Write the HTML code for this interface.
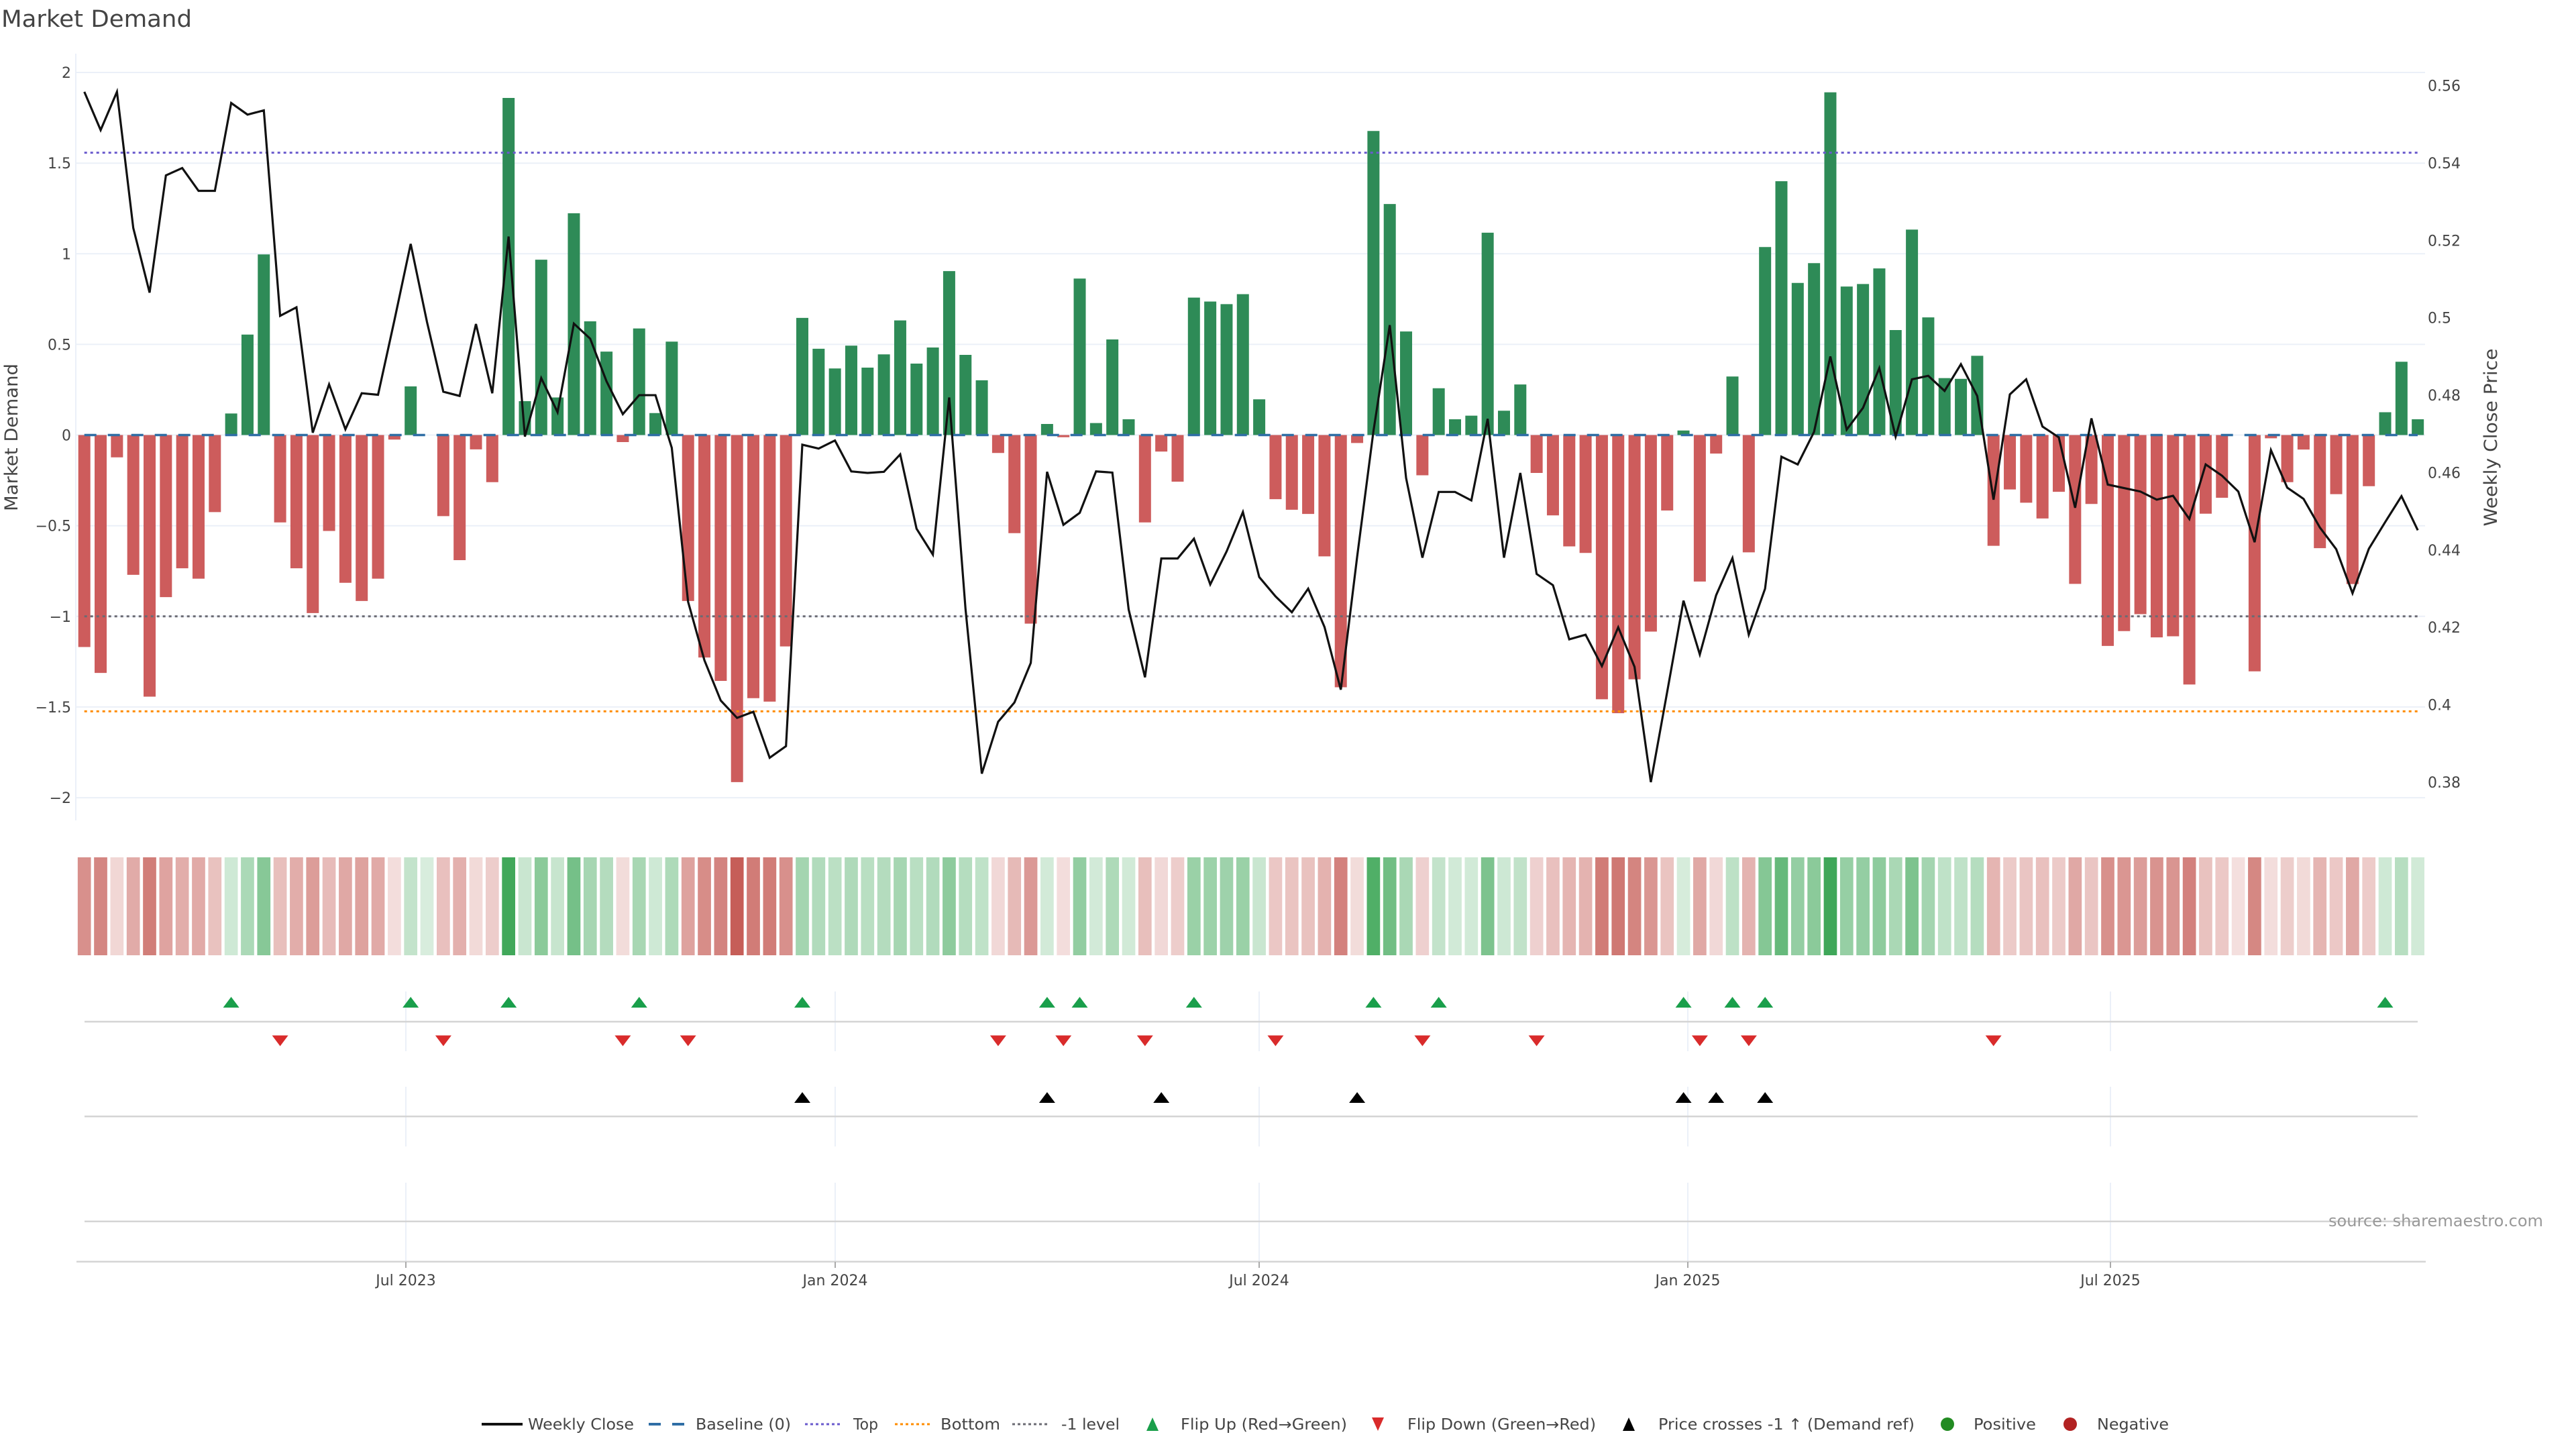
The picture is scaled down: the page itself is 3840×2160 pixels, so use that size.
<!DOCTYPE html>
<html><head><meta charset="utf-8">
<style>
html,body{margin:0;padding:0;background:#fff;width:3840px;height:2160px;overflow:hidden}
svg{display:block}
text{font-family:"DejaVu Sans","Liberation Sans",sans-serif;fill:#444}
.hp{fill:rgb(61,166,87)}
.hn{fill:rgb(198,94,88)}
</style></head>
<body>
<svg width="3840" height="2160" viewBox="0 0 3840 2160" xmlns="http://www.w3.org/2000/svg">
<rect width="3840" height="2160" fill="#fff"/>

<!-- Title -->
<text x="2" y="40" font-size="35" textLength="284" lengthAdjust="spacingAndGlyphs">Market Demand</text>

<!-- Main gridlines -->
<g stroke="#ebf0f8" stroke-width="2">
<line x1="113" y1="108" x2="3615" y2="108"/>
<line x1="113" y1="243.2" x2="3615" y2="243.2"/>
<line x1="113" y1="378.3" x2="3615" y2="378.3"/>
<line x1="113" y1="513.4" x2="3615" y2="513.4"/>
<line x1="113" y1="648.5" x2="3615" y2="648.5"/>
<line x1="113" y1="783.7" x2="3615" y2="783.7"/>
<line x1="113" y1="918.8" x2="3615" y2="918.8"/>
<line x1="113" y1="1053.9" x2="3615" y2="1053.9"/>
<line x1="113" y1="1189.1" x2="3615" y2="1189.1"/>
<line x1="113" y1="80" x2="113" y2="1223"/>
</g>

<!-- Left ticks -->
<g font-size="22" text-anchor="end">
<text x="106" y="116">2</text>
<text x="106" y="251.2">1.5</text>
<text x="106" y="386.3">1</text>
<text x="106" y="521.4">0.5</text>
<text x="106" y="656.5">0</text>
<text x="106" y="791.7">−0.5</text>
<text x="106" y="926.8">−1</text>
<text x="106" y="1061.9">−1.5</text>
<text x="106" y="1197.1">−2</text>
</g>
<!-- Right ticks -->
<g font-size="22">
<text x="3619" y="135.6">0.56</text>
<text x="3619" y="251">0.54</text>
<text x="3619" y="366.3">0.52</text>
<text x="3619" y="481.7">0.5</text>
<text x="3619" y="597">0.48</text>
<text x="3619" y="712.4">0.46</text>
<text x="3619" y="827.8">0.44</text>
<text x="3619" y="943.2">0.42</text>
<text x="3619" y="1058.5">0.4</text>
<text x="3619" y="1173.9">0.38</text>
</g>
<!-- Axis titles -->
<text transform="translate(26,652) rotate(-90)" font-size="27" text-anchor="middle" textLength="220" lengthAdjust="spacingAndGlyphs">Market Demand</text>
<text transform="translate(3722,652) rotate(-90)" font-size="27" text-anchor="middle" textLength="265" lengthAdjust="spacingAndGlyphs">Weekly Close Price</text>

<!-- Bars -->
<g transform="translate(116.7 648.5) scale(24.325 -270.3)">
<path fill="#2e8b57" d="M9 0h.74v.119h-.74zM10 0h.74v.554h-.74zM11 0h.74v.996h-.74zM20 0h.74v.268h-.74zM26 0h.74v1.859h-.74zM27 0h.74v.187h-.74zM28 0h.74v.967h-.74zM29 0h.74v.207h-.74zM30 0h.74v1.223h-.74zM31 0h.74v.627h-.74zM32 0h.74v.46h-.74zM34 0h.74v.588h-.74zM35 0h.74v.121h-.74zM36 0h.74v.515h-.74zM44 0h.74v.646h-.74zM45 0h.74v.476h-.74zM46 0h.74v.367h-.74zM47 0h.74v.493h-.74zM48 0h.74v.372h-.74zM49 0h.74v.445h-.74zM50 0h.74v.632h-.74zM51 0h.74v.394h-.74zM52 0h.74v.483h-.74zM53 0h.74v.904h-.74zM54 0h.74v.442h-.74zM55 0h.74v.302h-.74zM59 0h.74v.061h-.74zM61 0h.74v.863h-.74zM62 0h.74v.066h-.74zM63 0h.74v.527h-.74zM64 0h.74v.087h-.74zM68 0h.74v.758h-.74zM69 0h.74v.736h-.74zM70 0h.74v.722h-.74zM71 0h.74v.777h-.74zM72 0h.74v.197h-.74zM79 0h.74v1.677h-.74zM80 0h.74v1.274h-.74zM81 0h.74v.571h-.74zM83 0h.74v.258h-.74zM84 0h.74v.087h-.74zM85 0h.74v.107h-.74zM86 0h.74v1.116h-.74zM87 0h.74v.134h-.74zM88 0h.74v.279h-.74zM98 0h.74v.025h-.74zM101 0h.74v.323h-.74zM103 0h.74v1.037h-.74zM104 0h.74v1.4h-.74zM105 0h.74v.839h-.74zM106 0h.74v.948h-.74zM107 0h.74v1.89h-.74zM108 0h.74v.819h-.74zM109 0h.74v.833h-.74zM110 0h.74v.919h-.74zM111 0h.74v.579h-.74zM112 0h.74v1.133h-.74zM113 0h.74v.649h-.74zM114 0h.74v.314h-.74zM115 0h.74v.31h-.74zM116 0h.74v.437h-.74zM141 0h.74v.126h-.74zM142 0h.74v.404h-.74zM143 0h.74v.087h-.74z"/>
<path fill="#cd5c5c" d="M0 0h.74v-1.169h-.74zM1 0h.74v-1.312h-.74zM2 0h.74v-.123h-.74zM3 0h.74v-.771h-.74zM4 0h.74v-1.443h-.74zM5 0h.74v-.894h-.74zM6 0h.74v-.735h-.74zM7 0h.74v-.792h-.74zM8 0h.74v-.425h-.74zM12 0h.74v-.482h-.74zM13 0h.74v-.735h-.74zM14 0h.74v-.982h-.74zM15 0h.74v-.529h-.74zM16 0h.74v-.815h-.74zM17 0h.74v-.915h-.74zM18 0h.74v-.792h-.74zM19 0h.74v-.025h-.74zM22 0h.74v-.447h-.74zM23 0h.74v-.69h-.74zM24 0h.74v-.079h-.74zM25 0h.74v-.26h-.74zM33 0h.74v-.039h-.74zM37 0h.74v-.915h-.74zM38 0h.74v-1.227h-.74zM39 0h.74v-1.356h-.74zM40 0h.74v-1.914h-.74zM41 0h.74v-1.451h-.74zM42 0h.74v-1.47h-.74zM43 0h.74v-1.166h-.74zM56 0h.74v-.099h-.74zM57 0h.74v-.541h-.74zM58 0h.74v-1.04h-.74zM60 0h.74v-.012h-.74zM65 0h.74v-.482h-.74zM66 0h.74v-.091h-.74zM67 0h.74v-.257h-.74zM73 0h.74v-.354h-.74zM74 0h.74v-.412h-.74zM75 0h.74v-.435h-.74zM76 0h.74v-.669h-.74zM77 0h.74v-1.391h-.74zM78 0h.74v-.044h-.74zM82 0h.74v-.222h-.74zM89 0h.74v-.209h-.74zM90 0h.74v-.443h-.74zM91 0h.74v-.614h-.74zM92 0h.74v-.65h-.74zM93 0h.74v-1.457h-.74zM94 0h.74v-1.534h-.74zM95 0h.74v-1.347h-.74zM96 0h.74v-1.084h-.74zM97 0h.74v-.416h-.74zM99 0h.74v-.808h-.74zM100 0h.74v-.102h-.74zM102 0h.74v-.647h-.74zM117 0h.74v-.611h-.74zM118 0h.74v-.3h-.74zM119 0h.74v-.373h-.74zM120 0h.74v-.46h-.74zM121 0h.74v-.313h-.74zM122 0h.74v-.821h-.74zM123 0h.74v-.38h-.74zM124 0h.74v-1.163h-.74zM125 0h.74v-1.081h-.74zM126 0h.74v-.988h-.74zM127 0h.74v-1.116h-.74zM128 0h.74v-1.11h-.74zM129 0h.74v-1.376h-.74zM130 0h.74v-.434h-.74zM131 0h.74v-.346h-.74zM133 0h.74v-1.303h-.74zM134 0h.74v-.018h-.74zM135 0h.74v-.26h-.74zM136 0h.74v-.08h-.74zM137 0h.74v-.624h-.74zM138 0h.74v-.326h-.74zM139 0h.74v-.822h-.74zM140 0h.74v-.282h-.74z"/>
</g>

<!-- Reference lines -->
<line x1="125.7" y1="648.5" x2="3604" y2="648.5" stroke="#2f6ea5" stroke-width="3.5" stroke-dasharray="18 17"/>
<line x1="125.7" y1="227.6" x2="3604" y2="227.6" stroke="#6a5acd" stroke-width="3" stroke-dasharray="4 5"/>
<line x1="125.7" y1="918.8" x2="3604" y2="918.8" stroke="#6b6b73" stroke-width="3" stroke-dasharray="4 5"/>
<line x1="125.7" y1="1060.4" x2="3604" y2="1060.4" stroke="#ff8c00" stroke-width="3" stroke-dasharray="4 5"/>

<!-- Price line -->
<polyline transform="translate(125.7 3357.96) scale(24.325 -5768.5)" vector-effect="non-scaling-stroke" fill="none" stroke="#111" stroke-width="3.2" stroke-linejoin="miter" points="0,.5584 1,.5485 2,.5584 3,.5232 4,.5065 5,.5368 6,.5387 7,.5328 8,.5328 9,.5555 10,.5525 11,.5536 12,.5005 13,.5027 14,.4703 15,.4828 16,.4712 17,.4805 18,.4801 19,.4993 20,.5191 21,.4989 22,.4809 23,.4798 24,.4984 25,.4805 26,.521 27,.4693 28,.4844 29,.4756 30,.4985 31,.4946 32,.4836 33,.4751 34,.48 35,.48 36,.4664 37,.4266 38,.4115 39,.4011 40,.3966 41,.3982 42,.3863 43,.3893 44,.4672 45,.4662 46,.4683 47,.4603 48,.4599 49,.4602 50,.4647 51,.4455 52,.4388 53,.4794 54,.4248 55,.3822 56,.3956 57,.4006 58,.4108 59,.4602 60,.4465 61,.4496 62,.4603 63,.46 64,.4246 65,.4071 66,.4378 67,.4378 68,.4429 69,.4311 70,.4396 71,.4498 72,.433 73,.428 74,.4239 75,.43 76,.4201 77,.4039 78,.4382 79,.4707 80,.4981 81,.4586 82,.438 83,.455 84,.455 85,.4528 86,.4739 87,.438 88,.4599 89,.4338 90,.4309 91,.4169 92,.4181 93,.41 94,.42 95,.4098 96,.38 97,.4033 98,.4269 99,.413 100,.4283 101,.4379 102,.4181 103,.43 104,.4641 105,.4621 106,.4705 107,.49 108,.4711 109,.4767 110,.487 111,.4693 112,.4841 113,.485 114,.4811 115,.488 116,.4798 117,.453 118,.4802 119,.4841 120,.4719 121,.4691 122,.4509 123,.474 124,.4569 125,.456 126,.4551 127,.453 128,.454 129,.448 130,.4621 131,.4592 132,.4551 133,.442 134,.4658 135,.4561 136,.4532 137,.4458 138,.4402 139,.4288 140,.4403 141,.4472 142,.4539 143,.4451"/>

<!-- Heatmap strip -->
<g transform="translate(115.85 1278) scale(24.325 1)">
<rect x="0" width=".81" height="146" class="hn" fill-opacity=".69"/>
<rect x="1" width=".81" height="146" class="hn" fill-opacity=".75"/>
<rect x="2" width=".81" height="146" class="hn" fill-opacity=".25"/>
<rect x="3" width=".81" height="146" class="hn" fill-opacity=".52"/>
<rect x="4" width=".81" height="146" class="hn" fill-opacity=".80"/>
<rect x="5" width=".81" height="146" class="hn" fill-opacity=".57"/>
<rect x="6" width=".81" height="146" class="hn" fill-opacity=".51"/>
<rect x="7" width=".81" height="146" class="hn" fill-opacity=".53"/>
<rect x="8" width=".81" height="146" class="hn" fill-opacity=".38"/>
<rect x="9" width=".81" height="146" class="hp" fill-opacity=".25"/>
<rect x="10" width=".81" height="146" class="hp" fill-opacity=".43"/>
<rect x="11" width=".81" height="146" class="hp" fill-opacity=".62"/>
<rect x="12" width=".81" height="146" class="hn" fill-opacity=".40"/>
<rect x="13" width=".81" height="146" class="hn" fill-opacity=".51"/>
<rect x="14" width=".81" height="146" class="hn" fill-opacity=".61"/>
<rect x="15" width=".81" height="146" class="hn" fill-opacity=".42"/>
<rect x="16" width=".81" height="146" class="hn" fill-opacity=".54"/>
<rect x="17" width=".81" height="146" class="hn" fill-opacity=".58"/>
<rect x="18" width=".81" height="146" class="hn" fill-opacity=".53"/>
<rect x="19" width=".81" height="146" class="hn" fill-opacity=".21"/>
<rect x="20" width=".81" height="146" class="hp" fill-opacity=".31"/>
<rect x="21" width=".81" height="146" class="hp" fill-opacity=".20"/>
<rect x="22" width=".81" height="146" class="hn" fill-opacity=".39"/>
<rect x="23" width=".81" height="146" class="hn" fill-opacity=".49"/>
<rect x="24" width=".81" height="146" class="hn" fill-opacity=".23"/>
<rect x="25" width=".81" height="146" class="hn" fill-opacity=".31"/>
<rect x="26" width=".81" height="146" class="hp" fill-opacity=".98"/>
<rect x="27" width=".81" height="146" class="hp" fill-opacity=".28"/>
<rect x="28" width=".81" height="146" class="hp" fill-opacity=".60"/>
<rect x="29" width=".81" height="146" class="hp" fill-opacity=".29"/>
<rect x="30" width=".81" height="146" class="hp" fill-opacity=".71"/>
<rect x="31" width=".81" height="146" class="hp" fill-opacity=".46"/>
<rect x="32" width=".81" height="146" class="hp" fill-opacity=".39"/>
<rect x="33" width=".81" height="146" class="hn" fill-opacity=".22"/>
<rect x="34" width=".81" height="146" class="hp" fill-opacity=".45"/>
<rect x="35" width=".81" height="146" class="hp" fill-opacity=".25"/>
<rect x="36" width=".81" height="146" class="hp" fill-opacity=".42"/>
<rect x="37" width=".81" height="146" class="hn" fill-opacity=".58"/>
<rect x="38" width=".81" height="146" class="hn" fill-opacity=".71"/>
<rect x="39" width=".81" height="146" class="hn" fill-opacity=".77"/>
<rect x="40" width=".81" height="146" class="hn" fill-opacity="1"/>
<rect x="41" width=".81" height="146" class="hn" fill-opacity=".81"/>
<rect x="42" width=".81" height="146" class="hn" fill-opacity=".81"/>
<rect x="43" width=".81" height="146" class="hn" fill-opacity=".69"/>
<rect x="44" width=".81" height="146" class="hp" fill-opacity=".47"/>
<rect x="45" width=".81" height="146" class="hp" fill-opacity=".40"/>
<rect x="46" width=".81" height="146" class="hp" fill-opacity=".35"/>
<rect x="47" width=".81" height="146" class="hp" fill-opacity=".41"/>
<rect x="48" width=".81" height="146" class="hp" fill-opacity=".36"/>
<rect x="49" width=".81" height="146" class="hp" fill-opacity=".39"/>
<rect x="50" width=".81" height="146" class="hp" fill-opacity=".46"/>
<rect x="51" width=".81" height="146" class="hp" fill-opacity=".36"/>
<rect x="52" width=".81" height="146" class="hp" fill-opacity=".40"/>
<rect x="53" width=".81" height="146" class="hp" fill-opacity=".58"/>
<rect x="54" width=".81" height="146" class="hp" fill-opacity=".38"/>
<rect x="55" width=".81" height="146" class="hp" fill-opacity=".33"/>
<rect x="56" width=".81" height="146" class="hn" fill-opacity=".24"/>
<rect x="57" width=".81" height="146" class="hn" fill-opacity=".43"/>
<rect x="58" width=".81" height="146" class="hn" fill-opacity=".63"/>
<rect x="59" width=".81" height="146" class="hp" fill-opacity=".23"/>
<rect x="60" width=".81" height="146" class="hn" fill-opacity=".21"/>
<rect x="61" width=".81" height="146" class="hp" fill-opacity=".56"/>
<rect x="62" width=".81" height="146" class="hp" fill-opacity=".23"/>
<rect x="63" width=".81" height="146" class="hp" fill-opacity=".42"/>
<rect x="64" width=".81" height="146" class="hp" fill-opacity=".24"/>
<rect x="65" width=".81" height="146" class="hn" fill-opacity=".40"/>
<rect x="66" width=".81" height="146" class="hn" fill-opacity=".24"/>
<rect x="67" width=".81" height="146" class="hn" fill-opacity=".31"/>
<rect x="68" width=".81" height="146" class="hp" fill-opacity=".52"/>
<rect x="69" width=".81" height="146" class="hp" fill-opacity=".51"/>
<rect x="70" width=".81" height="146" class="hp" fill-opacity=".50"/>
<rect x="71" width=".81" height="146" class="hp" fill-opacity=".52"/>
<rect x="72" width=".81" height="146" class="hp" fill-opacity=".28"/>
<rect x="73" width=".81" height="146" class="hn" fill-opacity=".35"/>
<rect x="74" width=".81" height="146" class="hn" fill-opacity=".37"/>
<rect x="75" width=".81" height="146" class="hn" fill-opacity=".38"/>
<rect x="76" width=".81" height="146" class="hn" fill-opacity=".48"/>
<rect x="77" width=".81" height="146" class="hn" fill-opacity=".78"/>
<rect x="78" width=".81" height="146" class="hn" fill-opacity=".22"/>
<rect x="79" width=".81" height="146" class="hp" fill-opacity=".90"/>
<rect x="80" width=".81" height="146" class="hp" fill-opacity=".73"/>
<rect x="81" width=".81" height="146" class="hp" fill-opacity=".44"/>
<rect x="82" width=".81" height="146" class="hn" fill-opacity=".29"/>
<rect x="83" width=".81" height="146" class="hp" fill-opacity=".31"/>
<rect x="84" width=".81" height="146" class="hp" fill-opacity=".24"/>
<rect x="85" width=".81" height="146" class="hp" fill-opacity=".24"/>
<rect x="86" width=".81" height="146" class="hp" fill-opacity=".67"/>
<rect x="87" width=".81" height="146" class="hp" fill-opacity=".26"/>
<rect x="88" width=".81" height="146" class="hp" fill-opacity=".32"/>
<rect x="89" width=".81" height="146" class="hn" fill-opacity=".29"/>
<rect x="90" width=".81" height="146" class="hn" fill-opacity=".39"/>
<rect x="91" width=".81" height="146" class="hn" fill-opacity=".46"/>
<rect x="92" width=".81" height="146" class="hn" fill-opacity=".47"/>
<rect x="93" width=".81" height="146" class="hn" fill-opacity=".81"/>
<rect x="94" width=".81" height="146" class="hn" fill-opacity=".84"/>
<rect x="95" width=".81" height="146" class="hn" fill-opacity=".76"/>
<rect x="96" width=".81" height="146" class="hn" fill-opacity=".65"/>
<rect x="97" width=".81" height="146" class="hn" fill-opacity=".37"/>
<rect x="98" width=".81" height="146" class="hp" fill-opacity=".21"/>
<rect x="99" width=".81" height="146" class="hn" fill-opacity=".54"/>
<rect x="100" width=".81" height="146" class="hn" fill-opacity=".24"/>
<rect x="101" width=".81" height="146" class="hp" fill-opacity=".34"/>
<rect x="102" width=".81" height="146" class="hn" fill-opacity=".47"/>
<rect x="103" width=".81" height="146" class="hp" fill-opacity=".63"/>
<rect x="104" width=".81" height="146" class="hp" fill-opacity=".79"/>
<rect x="105" width=".81" height="146" class="hp" fill-opacity=".55"/>
<rect x="106" width=".81" height="146" class="hp" fill-opacity=".60"/>
<rect x="107" width=".81" height="146" class="hp" fill-opacity=".99"/>
<rect x="108" width=".81" height="146" class="hp" fill-opacity=".54"/>
<rect x="109" width=".81" height="146" class="hp" fill-opacity=".55"/>
<rect x="110" width=".81" height="146" class="hp" fill-opacity=".58"/>
<rect x="111" width=".81" height="146" class="hp" fill-opacity=".44"/>
<rect x="112" width=".81" height="146" class="hp" fill-opacity=".67"/>
<rect x="113" width=".81" height="146" class="hp" fill-opacity=".47"/>
<rect x="114" width=".81" height="146" class="hp" fill-opacity=".33"/>
<rect x="115" width=".81" height="146" class="hp" fill-opacity=".33"/>
<rect x="116" width=".81" height="146" class="hp" fill-opacity=".38"/>
<rect x="117" width=".81" height="146" class="hn" fill-opacity=".46"/>
<rect x="118" width=".81" height="146" class="hn" fill-opacity=".33"/>
<rect x="119" width=".81" height="146" class="hn" fill-opacity=".36"/>
<rect x="120" width=".81" height="146" class="hn" fill-opacity=".39"/>
<rect x="121" width=".81" height="146" class="hn" fill-opacity=".33"/>
<rect x="122" width=".81" height="146" class="hn" fill-opacity=".54"/>
<rect x="123" width=".81" height="146" class="hn" fill-opacity=".36"/>
<rect x="124" width=".81" height="146" class="hn" fill-opacity=".69"/>
<rect x="125" width=".81" height="146" class="hn" fill-opacity=".65"/>
<rect x="126" width=".81" height="146" class="hn" fill-opacity=".61"/>
<rect x="127" width=".81" height="146" class="hn" fill-opacity=".67"/>
<rect x="128" width=".81" height="146" class="hn" fill-opacity=".66"/>
<rect x="129" width=".81" height="146" class="hn" fill-opacity=".78"/>
<rect x="130" width=".81" height="146" class="hn" fill-opacity=".38"/>
<rect x="131" width=".81" height="146" class="hn" fill-opacity=".34"/>
<rect x="132" width=".81" height="146" class="hn" fill-opacity=".20"/>
<rect x="133" width=".81" height="146" class="hn" fill-opacity=".74"/>
<rect x="134" width=".81" height="146" class="hn" fill-opacity=".21"/>
<rect x="135" width=".81" height="146" class="hn" fill-opacity=".31"/>
<rect x="136" width=".81" height="146" class="hn" fill-opacity=".23"/>
<rect x="137" width=".81" height="146" class="hn" fill-opacity=".46"/>
<rect x="138" width=".81" height="146" class="hn" fill-opacity=".34"/>
<rect x="139" width=".81" height="146" class="hn" fill-opacity=".54"/>
<rect x="140" width=".81" height="146" class="hn" fill-opacity=".32"/>
<rect x="141" width=".81" height="146" class="hp" fill-opacity=".25"/>
<rect x="142" width=".81" height="146" class="hp" fill-opacity=".37"/>
<rect x="143" width=".81" height="146" class="hp" fill-opacity=".24"/>
</g>

<!-- Marker panels: vertical gridlines -->
<g stroke="#ebf0f8" stroke-width="2">
<line x1="605" y1="1478" x2="605" y2="1567"/><line x1="1245" y1="1478" x2="1245" y2="1567"/><line x1="1877" y1="1478" x2="1877" y2="1567"/><line x1="2516" y1="1478" x2="2516" y2="1567"/><line x1="3146" y1="1478" x2="3146" y2="1567"/>
<line x1="605" y1="1620" x2="605" y2="1709"/><line x1="1245" y1="1620" x2="1245" y2="1709"/><line x1="1877" y1="1620" x2="1877" y2="1709"/><line x1="2516" y1="1620" x2="2516" y2="1709"/><line x1="3146" y1="1620" x2="3146" y2="1709"/>
<line x1="605" y1="1763" x2="605" y2="1880"/><line x1="1245" y1="1763" x2="1245" y2="1880"/><line x1="1877" y1="1763" x2="1877" y2="1880"/><line x1="2516" y1="1763" x2="2516" y2="1880"/><line x1="3146" y1="1763" x2="3146" y2="1880"/>
</g>
<g stroke="#d4d4d4" stroke-width="2.5">
<line x1="126" y1="1523" x2="3604" y2="1523"/>
<line x1="126" y1="1664.3" x2="3604" y2="1664.3"/>
<line x1="126" y1="1820.7" x2="3604" y2="1820.7"/>
<line x1="114" y1="1880.7" x2="3616" y2="1880.7"/>
</g>
<g stroke="#aaa" stroke-width="2">
<line x1="605" y1="1881" x2="605" y2="1890"/><line x1="1245" y1="1881" x2="1245" y2="1890"/><line x1="1877" y1="1881" x2="1877" y2="1890"/><line x1="2516" y1="1881" x2="2516" y2="1890"/><line x1="3146" y1="1881" x2="3146" y2="1890"/>
</g>
<g font-size="22" text-anchor="middle">
<text x="605" y="1916">Jul 2023</text>
<text x="1245" y="1916">Jan 2024</text>
<text x="1877" y="1916">Jul 2024</text>
<text x="2516" y="1916">Jan 2025</text>
<text x="3146" y="1916">Jul 2025</text>
</g>

<!-- Flip up (green) -->
<g fill="#1a9f4b">
<path d="M344.6 1486l12 16h-24z"/><path d="M612.2 1486l12 16h-24z"/><path d="M758.2 1486l12 16h-24z"/><path d="M952.8 1486l12 16h-24z"/><path d="M1196 1486l12 16h-24z"/><path d="M1560.9 1486l12 16h-24z"/><path d="M1609.5 1486l12 16h-24z"/><path d="M1779.8 1486l12 16h-24z"/><path d="M2047.4 1486l12 16h-24z"/><path d="M2144.7 1486l12 16h-24z"/><path d="M2509.6 1486l12 16h-24z"/><path d="M2582.5 1486l12 16h-24z"/><path d="M2631.2 1486l12 16h-24z"/><path d="M3555.5 1486l12 16h-24z"/>
</g>
<!-- Flip down (red) -->
<g fill="#d92b2b">
<path d="M405.6 1543.5h24l-12 16z"/><path d="M648.9 1543.5h24l-12 16z"/><path d="M916.4 1543.5h24l-12 16z"/><path d="M1013.7 1543.5h24l-12 16z"/><path d="M1475.9 1543.5h24l-12 16z"/><path d="M1573.2 1543.5h24l-12 16z"/><path d="M1694.8 1543.5h24l-12 16z"/><path d="M1889.4 1543.5h24l-12 16z"/><path d="M2108.4 1543.5h24l-12 16z"/><path d="M2278.6 1543.5h24l-12 16z"/><path d="M2521.9 1543.5h24l-12 16z"/><path d="M2594.9 1543.5h24l-12 16z"/><path d="M2959.7 1543.5h24l-12 16z"/>
</g>
<!-- Price crosses (black) -->
<g fill="#000">
<path d="M1196 1628l12 16h-24z"/><path d="M1560.9 1628l12 16h-24z"/><path d="M1731.2 1628l12 16h-24z"/><path d="M2023.1 1628l12 16h-24z"/><path d="M2509.6 1628l12 16h-24z"/><path d="M2558.2 1628l12 16h-24z"/><path d="M2631.2 1628l12 16h-24z"/>
</g>

<!-- Source -->
<text x="3471" y="1828" font-size="24" style="fill:#999" textLength="320" lengthAdjust="spacingAndGlyphs">source: sharemaestro.com</text>

<!-- Legend -->
<line x1="718" y1="2123" x2="779" y2="2123" stroke="#111" stroke-width="4"/>
<text x="787" y="2131" font-size="23" textLength="158" lengthAdjust="spacingAndGlyphs">Weekly Close</text>
<line x1="967" y1="2123" x2="1020" y2="2123" stroke="#2f6ea5" stroke-width="4" stroke-dasharray="18 17"/>
<text x="1037" y="2131" font-size="23" textLength="142" lengthAdjust="spacingAndGlyphs">Baseline (0)</text>
<line x1="1200" y1="2123" x2="1255" y2="2123" stroke="#6a5acd" stroke-width="3" stroke-dasharray="4 4"/>
<text x="1272" y="2131" font-size="23" textLength="37" lengthAdjust="spacingAndGlyphs">Top</text>
<line x1="1334" y1="2123" x2="1388" y2="2123" stroke="#ff8c00" stroke-width="3" stroke-dasharray="4 4"/>
<text x="1402" y="2131" font-size="23" textLength="89" lengthAdjust="spacingAndGlyphs">Bottom</text>
<line x1="1509" y1="2123" x2="1564" y2="2123" stroke="#6b6b73" stroke-width="3" stroke-dasharray="4 4"/>
<text x="1582" y="2131" font-size="23" textLength="87" lengthAdjust="spacingAndGlyphs">-1 level</text>
<path d="M1718 2113l9 20h-18z" fill="#1a9f4b"/>
<text x="1760" y="2131" font-size="23" textLength="248" lengthAdjust="spacingAndGlyphs">Flip Up (Red→Green)</text>
<path d="M2045 2113h18l-9 20z" fill="#d92b2b"/>
<text x="2098" y="2131" font-size="23" textLength="281" lengthAdjust="spacingAndGlyphs">Flip Down (Green→Red)</text>
<path d="M2428 2113l9 20h-18z" fill="#000"/>
<text x="2472" y="2131" font-size="23" textLength="382" lengthAdjust="spacingAndGlyphs">Price crosses -1 ↑ (Demand ref)</text>
<circle cx="2903" cy="2123" r="10" fill="#228b22"/>
<text x="2942" y="2131" font-size="23" textLength="93" lengthAdjust="spacingAndGlyphs">Positive</text>
<circle cx="3086" cy="2123" r="10" fill="#b22222"/>
<text x="3126" y="2131" font-size="23" textLength="107" lengthAdjust="spacingAndGlyphs">Negative</text>
</svg>
</body></html>
